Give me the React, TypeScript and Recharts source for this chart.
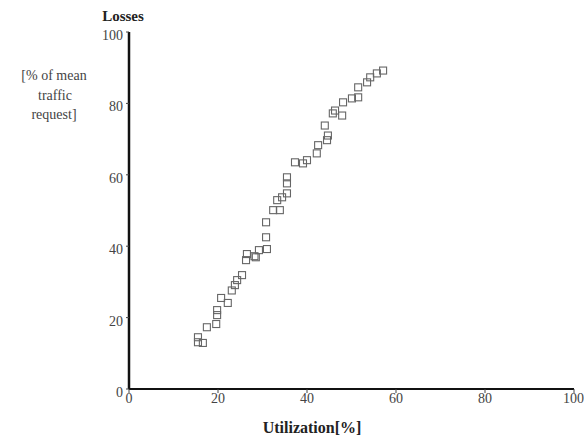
import { CartesianGrid, Scatter, ScatterChart, XAxis, YAxis } from 'recharts'

// utilization [%] and losses [% of mean traffic request]
const utilization = [
  15.5, 15.5, 16.6, 17.5, 19.6, 19.8, 19.8, 20.7, 22.2, 23.1, 23.8, 24.3, 25.4,
  26.3, 26.5, 28.2, 28.5, 29.2, 31.0, 30.8, 30.8, 32.4, 33.9, 33.3, 34.4, 35.5,
  35.5, 35.5, 37.3, 39.1, 40.0, 42.2, 42.5, 44.5, 44.7, 44.0, 45.8, 46.3, 47.9,
  48.1, 50.1, 51.5, 51.5, 53.5, 54.2, 55.7, 57.1,
]
const losses = [
  14.5, 13.1, 12.9, 17.3, 18.2, 20.7, 22.1, 25.5, 24.1, 27.6, 29.1, 30.5, 31.9,
  36.1, 37.8, 37.2, 36.9, 38.9, 39.2, 42.5, 46.7, 50.1, 50.1, 52.9, 53.7, 54.8,
  57.6, 59.3, 63.5, 63.2, 64.1, 66.0, 68.3, 69.7, 71.0, 73.8, 77.2, 78.0, 76.6,
  80.3, 81.4, 81.7, 84.5, 85.9, 87.3, 88.4, 89.2,
]
const xTicks = [0, 20, 40, 60, 80, 100]
const yTicks = [0, 20, 40, 60, 80, 100]

const points = utilization.map((u, i) => ({ u, loss: losses[i] }))

const serif = '"Liberation Serif", "DejaVu Serif", serif'

function SquareMark(props: any) {
  const { cx, cy } = props
  if (cx == null || cy == null) return null
  return <rect x={cx - 3.5} y={cy - 3.5} width={7} height={7} fill="none" stroke="#666" strokeWidth={1.1} />
}

function LossLabel() {
  return (
    <g fontFamily={serif} fill="#222">
      <text x={123} y={21} textAnchor="middle" fontSize={15} fontWeight={700}>Losses</text>
      <text x={54} y={80} textAnchor="middle" fontSize={14} fill="#444">[% of mean</text>
      <text x={55} y={100} textAnchor="middle" fontSize={14} fill="#444">traffic</text>
      <text x={54} y={119} textAnchor="middle" fontSize={14} fill="#444">request]</text>
    </g>
  )
}

function UtilLabel() {
  return (
    <text x={312} y={433} textAnchor="middle" fontFamily={serif} fontSize={16} fontWeight={700} fill="#222">
      Utilization[%]
    </text>
  )
}

export default function App() {
  return (
    <div style={{ position: 'absolute', left: 0, top: 0, background: '#fff' }}>
      <ScatterChart width={584} height={439} margin={{ top: 32, right: 10, bottom: 20, left: 99 }}>
        <CartesianGrid stroke="none" />
        <XAxis
          type="number"
          dataKey="u"
          domain={[0, 100]}
          ticks={xTicks}
          height={30}
          axisLine={{ stroke: '#111', strokeWidth: 2 }}
          tickLine={{ stroke: '#444' }}
          tickSize={4}
          tickMargin={0}
          tick={{ fill: '#444', fontSize: 14, fontFamily: serif }}
          label={<UtilLabel />}
        />
        <YAxis
          type="number"
          dataKey="loss"
          domain={[0, 100]}
          ticks={yTicks}
          width={30}
          axisLine={{ stroke: '#111', strokeWidth: 2.5 }}
          tickLine={{ stroke: '#444' }}
          tickSize={3}
          tickMargin={3}
          tick={{ fill: '#444', fontSize: 14, fontFamily: serif, dy: 3 }}
          label={<LossLabel />}
        />
        <Scatter data={points} shape={<SquareMark />} isAnimationActive={false} />
      </ScatterChart>
    </div>
  )
}
